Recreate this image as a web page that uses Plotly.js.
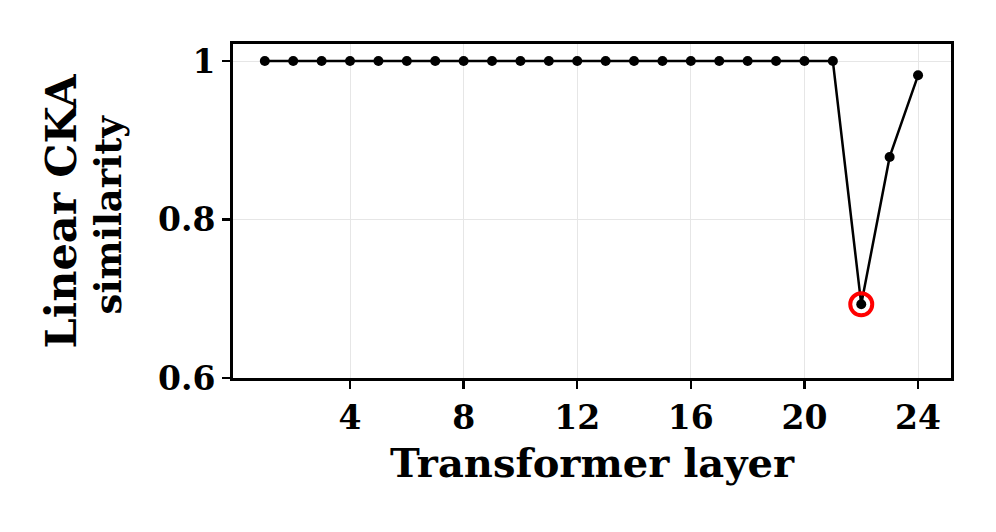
<!DOCTYPE html>
<html>
<head>
<meta charset="utf-8">
<script src="https://cdn.plot.ly/plotly-3.0.1.min.js"></script>
<style>
  html, body { margin: 0; padding: 0; background: #fff; }
  #useGraph { width: 996px; height: 532px; }
</style>
</head>
<body>
<div id="useGraph"></div>
<script>
// layer index and CKA similarity
var layers = [];
for (var i = 1; i <= 24; i++) layers.push(i);
var cka = [1, 1, 1, 1, 1, 1, 1, 1, 1, 1, 1, 1,
           1, 1, 1, 1, 1, 1, 1, 1, 1, 0.693, 0.879, 0.982];
var minLayer = [22];
var minValue = [0.693];
var xTicks = [4, 8, 12, 16, 20, 24];
var yTicks = [0.6, 0.8, 1];
var yTickText = ['0.6', '0.8', '1'];

var font = 'DejaVu Serif';

var trace = {
  x: layers,
  y: cka,
  type: 'scatter',
  mode: 'lines+markers',
  line: { color: '#000', width: 2.5 },
  marker: { color: '#000', size: 10 },
  hoverinfo: 'none'
};
var highlight = {
  x: minLayer,
  y: minValue,
  type: 'scatter',
  mode: 'markers',
  marker: { symbol: 'circle-open', color: '#f00', size: 22, line: { color: '#f00', width: 4 } },
  hoverinfo: 'none'
};

var axisCommon = {
  showline: true, linecolor: '#000', linewidth: 3, mirror: true,
  ticks: 'outside', ticklen: 8, tickwidth: 2.5, tickcolor: '#000',
  showgrid: true, gridcolor: '#e6e6e6', gridwidth: 1,
  zeroline: false,
  tickfont: { family: font, size: 33, color: '#000', weight: 'bold' }
};

var layout = {
  width: 996, height: 532,
  margin: { l: 233, r: 45, t: 44, b: 154 },
  paper_bgcolor: '#fff', plot_bgcolor: '#fff',
  showlegend: false,
  xaxis: Object.assign({}, axisCommon, {
    range: [-0.12, 25.16],
    tickvals: xTicks,
    title: { text: 'Transformer layer', font: { family: font, size: 40, color: '#000', weight: 'bold' }, standoff: 14 }
  }),
  yaxis: Object.assign({}, axisCommon, {
    range: [0.6, 1.0215],
    tickvals: yTicks, ticktext: yTickText
  }),
  annotations: [
    { text: 'Linear CKA', xref: 'paper', yref: 'paper', x: -0.239, y: 0.5,
      xanchor: 'center', yanchor: 'middle', textangle: -90, showarrow: false,
      font: { family: font, size: 43, color: '#000', weight: 'bold' } },
    { text: 'similarity', xref: 'paper', yref: 'paper', x: -0.174, y: 0.49,
      xanchor: 'center', yanchor: 'middle', textangle: -90, showarrow: false,
      font: { family: font, size: 37, color: '#000', weight: 'bold' } }
  ]
};

Plotly.newPlot('useGraph', [trace, highlight], layout, { staticPlot: true });
</script>
</body>
</html>
